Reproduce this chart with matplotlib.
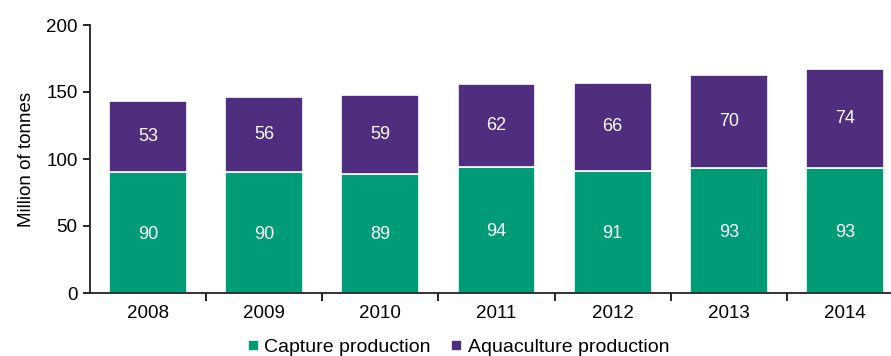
import matplotlib.pyplot as plt
from matplotlib.lines import Line2D
import numpy as np

years = ['2008', '2009', '2010', '2011', '2012', '2013', '2014']
capture = [90, 90, 89, 94, 91, 93, 93]
aquaculture = [53, 56, 59, 62, 66, 70, 74]

plt.rcParams['font.family'] = ['Liberation Sans', 'DejaVu Sans']

green = '#009B77'
purple = '#4F2D7F'

fig = plt.figure(figsize=(8.91, 3.56), dpi=100)
ax = fig.add_axes([90 / 891, 63 / 356, 813 / 891, 268 / 356])

x = np.arange(len(years))
w = 0.67
ax.bar(x, capture, w, color=green, edgecolor='white', linewidth=1.2)
ax.bar(x, aquaculture, w, bottom=capture, color=purple, edgecolor='white', linewidth=1.2)

for i in range(len(years)):
    ax.text(x[i], capture[i] / 2 - 1, str(capture[i]), ha='center', va='center',
            color='white', fontsize=13)
    ax.text(x[i], capture[i] + aquaculture[i] / 2, str(aquaculture[i]),
            ha='center', va='center', color='white', fontsize=13)

ax.set_xlim(-0.5, len(years) - 0.5)
ax.set_ylim(0, 200)
ax.set_yticks([0, 50, 100, 150, 200])
ax.tick_params(axis='y', labelsize=13.5, length=5, width=1.2, direction='out', pad=4)
ax.set_xticks(x)
ax.set_xticklabels(years)
ax.tick_params(axis='x', which='major', length=0, labelsize=13.5, pad=9)
ax.set_xticks(np.arange(0.5, len(years) - 0.5, 1), minor=True)
ax.tick_params(axis='x', which='minor', length=6, width=1.2, direction='out')

for s in ['top', 'right']:
    ax.spines[s].set_visible(False)
for s in ['left', 'bottom']:
    ax.spines[s].set_linewidth(1.3)
    ax.spines[s].set_color('#222222')

ax.set_ylabel('Million of tonnes', fontsize=13.5, labelpad=8)

handles = [Line2D([], [], marker='s', color='none', markerfacecolor=green,
                  markeredgecolor=green, markersize=6, label='Capture production'),
           Line2D([], [], marker='s', color='none', markerfacecolor=purple,
                  markeredgecolor=purple, markersize=6, label='Aquaculture production')]
fig.legend(handles=handles, loc='center', bbox_to_anchor=(455 / 891, 1 - 347 / 356),
           ncol=2, frameon=False, fontsize=14, handletextpad=0.0, columnspacing=0.7,
           handlelength=1.2)

fig.savefig('out.png', dpi=100)
